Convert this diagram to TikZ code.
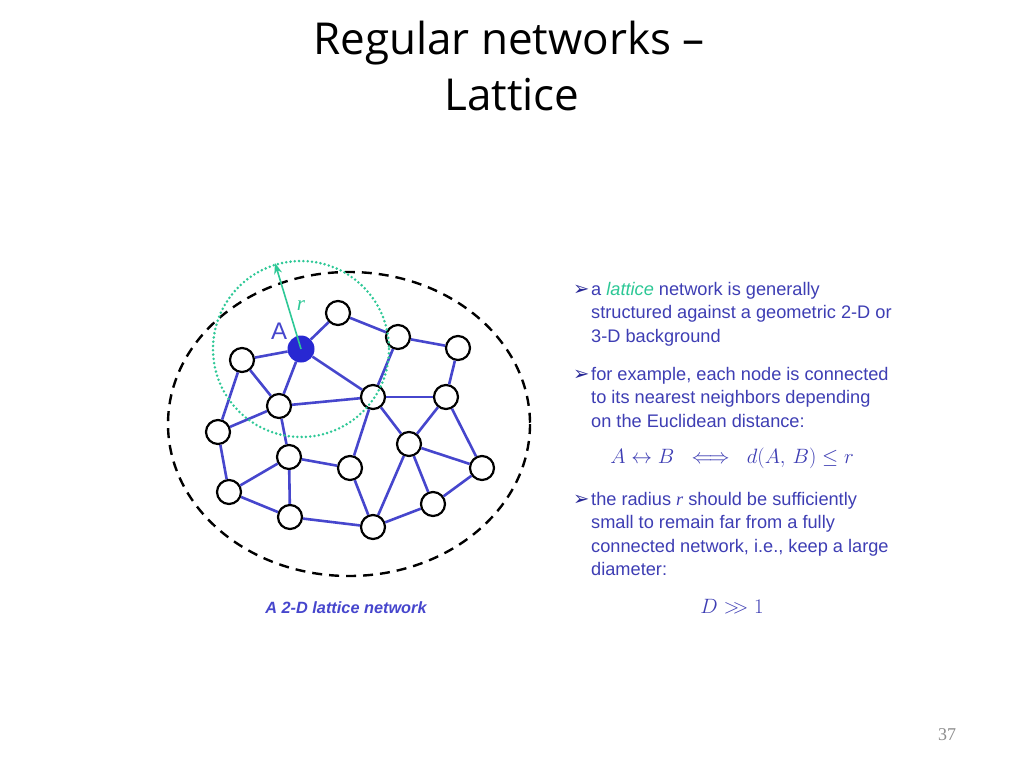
\documentclass[tikz,border=0pt]{standalone}
\usepackage{fontspec}
\setmainfont{Liberation Sans}
\newfontfamily\titlefont{Open Sans}
\newfontfamily\symfont{DejaVu Sans}
\newfontfamily\pagefont{Liberation Serif}
\usetikzlibrary{arrows.meta}
\definecolor{edgeblue}{RGB}{70,70,205}
\definecolor{nodeblue}{RGB}{40,40,210}
\definecolor{txtblue}{RGB}{62,62,180}
\definecolor{bulblue}{RGB}{40,40,150}
\definecolor{lgreen}{RGB}{45,200,150}
\tikzset{
  vert/.style={circle,draw=black,fill=white,line width=2.2pt,minimum size=24pt,inner sep=0pt},
  avert/.style={circle,fill=nodeblue,minimum size=27pt,inner sep=0pt},
  link/.style={draw=edgeblue,line width=2.6pt},
  bullettext/.style={anchor=base west,inner sep=0pt,text=txtblue,font=\fontsize{18.2}{23.6}\selectfont},
  formula/.style={anchor=base,inner sep=0pt,text=txtblue,font=\fontsize{20}{24}\selectfont},
}
\newcommand{\bul}{\makebox[18pt][l]{\textcolor{bulblue}{\symfont\fontsize{19.5}{20}\selectfont ➢}}}
\begin{document}
\begin{tikzpicture}[x=1pt,y=-1pt]
\useasboundingbox[fill=white] (0,0) rectangle (1024,768);
% title
\node[anchor=base,inner sep=0pt,font=\titlefont\fontsize{44}{55}\selectfont] (title1) at (509,55) {Regular networks –};
\node[anchor=base,inner sep=0pt,font=\titlefont\fontsize{44}{55}\selectfont] (title2) at (512,110) {Lattice};
% outer dashed ellipse
\draw[black,line width=2.4pt,dash pattern=on 10pt off 7pt] (349,424) ellipse [x radius=181, y radius=152];
% vertices
\node[avert] (A) at (301,349) {};
\node[vert] (n1) at (338,313) {};
\node[vert] (n2) at (398,337) {};
\node[vert] (n3) at (458,348) {};
\node[vert] (n4) at (242,360) {};
\node[vert] (n5) at (279,406) {};
\node[vert] (n6) at (373,397) {};
\node[vert] (n7) at (446,397) {};
\node[vert] (n8) at (218,432) {};
\node[vert] (n9) at (289,457) {};
\node[vert] (n10) at (350,468) {};
\node[vert] (n11) at (409,444) {};
\node[vert] (n12) at (482,468) {};
\node[vert] (n13) at (229,492) {};
\node[vert] (n14) at (290,517) {};
\node[vert] (n15) at (373,527) {};
\node[vert] (n16) at (433,504) {};
% edges
\foreach \a/\b in {A/n1,A/n4,A/n5,A/n6,n1/n2,n2/n3,n2/n6,n3/n7,n4/n5,n4/n8,n5/n8,n5/n6,n5/n9,n6/n7,n6/n10,n6/n11,n7/n11,n7/n12,n8/n13,n9/n10,n9/n13,n9/n14,n10/n15,n11/n12,n11/n15,n11/n16,n12/n16,n13/n14,n14/n15,n15/n16}
  \draw[link] (\a) -- (\b);
% radius circle and arrow
\draw[lgreen,line width=2.8pt,line cap=round,dash pattern=on 0pt off 4.3pt] (A.center) circle [radius=88];
\coordinate (rtip) at (275,263);
\draw[lgreen,line width=1.6pt,-{Stealth[length=11pt,width=8pt]}] (A.center) -- (rtip);
\node[text=lgreen,font=\pagefont\itshape\fontsize{21}{21}\selectfont,inner sep=0pt] (rlab) at (301,306) {r};
\node[text=edgeblue,font=\fontsize{24}{24}\selectfont,inner sep=0pt] (Alab) at (279,331) {A};
% caption
\node[anchor=base,inner sep=0pt,text=edgeblue,font=\bfseries\itshape\fontsize{16.3}{16}\selectfont] (cap) at (346,613) {A 2-D lattice network};
% bullets
\node[bullettext] (b1) at (573,295) {\bul\begin{tabular}[t]{@{}l@{}}a \textcolor{lgreen}{\itshape lattice} network is generally\\structured against a geometric 2-D or\\3-D background\end{tabular}};
\node[bullettext] (b2) at (573,380) {\bul\begin{tabular}[t]{@{}l@{}}for example, each node is connected\\to its nearest neighbors depending\\on the Euclidean distance:\end{tabular}};
\node[formula] (f1) at (732,463) {$A \leftrightarrow B \;\iff\; d(A,\,B) \le r$};
\node[bullettext] (b3) at (573,505) {\bul\begin{tabular}[t]{@{}l@{}}the radius {\pagefont\itshape r} should be sufficiently\\small to remain far from a fully\\connected network, i.e., keep a large\\diameter:\end{tabular}};
\node[formula] (f2) at (732,613) {$D \mathrel{>\!\!>} 1$};
% page number
\node[anchor=base,inner sep=0pt,text=black!45,font=\pagefont\fontsize{18}{18}\selectfont] (pg) at (947,740) {37};
\end{tikzpicture}
\end{document}
